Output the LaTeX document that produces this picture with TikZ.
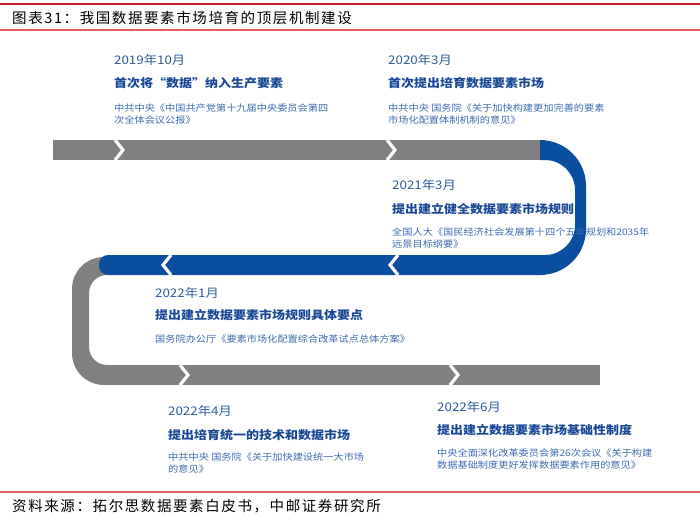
\documentclass[tikz,border=0pt]{standalone}
\usepackage{fontspec}
\newfontfamily\cjk[FakeStretch=1.12]{Noto Sans CJK SC}
\newfontfamily\cjktitle[LetterSpace=11]{Noto Sans CJK SC}
\usepackage{tikz}
\usetikzlibrary{positioning}

\definecolor{bandblue}{RGB}{10,78,160}
\definecolor{bandgray}{RGB}{128,128,128}
\definecolor{datecol}{RGB}{46,92,158}
\definecolor{headcol}{RGB}{24,72,150}
\definecolor{notecol}{RGB}{62,108,178}
\definecolor{rulered}{RGB}{200,30,36}
\definecolor{rulepink}{RGB}{226,96,100}

\begin{document}
\begin{tikzpicture}[
        x=1pt, y=-1pt,
        datetxt/.style={
            anchor=west, inner sep=0pt, text=datecol,
            font=\cjk\fontsize{11.9}{14}\selectfont
        },
        headtxt/.style={
            inner sep=0pt, text=headcol,
            font=\cjk\bfseries\fontsize{11.6}{14}\selectfont
        },
        notetxt/.style={
            inner sep=0pt, align=left, text=notecol,
            font=\cjk\fontsize{9.1}{12.5}\selectfont
        },
        captxt/.style={
            anchor=west, inner sep=0pt, text=black,
            font=\cjktitle\fontsize{14.5}{16}\selectfont
        },
        chev/.style={draw=white, line width=3.2pt, miter limit=4}
    ]

    \useasboundingbox (0,0) rectangle (700,524);
    \fill[white] (0,0) rectangle (700,524);

    % --- Header ---
    \draw[rulered, line width=2.4pt] (0,4) -- (700,4);
    \node[captxt] (title) at (12,18) {图表31：我国数据要素市场培育的顶层机制建设};
    \draw[rulepink, line width=1.1pt] (0,30) -- (700,30);

    % --- Timeline band ---
    \fill[bandgray] (53,140) rectangle (541,160);
    \begin{scope}
        \clip (540,100) rectangle (700,300);
        \fill[bandblue, even odd rule, rounded corners=46pt]
            (470,140) rectangle (586,275)
            [rounded corners=30pt] (470,160) rectangle (575,255);
    \end{scope}
    \begin{scope}
        \clip (0,240) rectangle (106,400);
        \fill[bandgray, even odd rule, rounded corners=32pt]
            (72,257) rectangle (220,385)
            [rounded corners=18pt] (89,275) rectangle (220,365);
    \end{scope}
    \fill[bandblue, rounded corners=9pt] (99,255) -- (99,275) -- (120,275)
        [sharp corners] -- (541,275) -- (541,255) -- (120,255) [rounded corners=9pt] -- cycle;
    \fill[bandgray] (100,365) rectangle (600,385);

    % chevrons
    \draw[chev] (115,140) -- (123,150) -- (115,160);
    \draw[chev] (387,140) -- (395,150) -- (387,160);
    \draw[chev] (171,255) -- (163,265) -- (171,275);
    \draw[chev] (398,255) -- (390,265) -- (398,275);
    \draw[chev] (180,365) -- (188,375) -- (180,385);
    \draw[chev] (450,365) -- (458,375) -- (450,385);

    % --- Milestones ---
    \node[datetxt] (d1910) at (114,60) {2019年10月};
    \node[headtxt, below=23pt of d1910.west, anchor=west] (h1910) {首次将“数据”纳入生产要素};
    \node[notetxt, below=20.5pt of h1910.west, anchor=north west] (n1910) {
        中共中央《中国共产党第十九届中央委员会第四\\
        次全体会议公报》
    };

    \node[datetxt] (d2003) at (388,60) {2020年3月};
    \node[headtxt, below=23pt of d2003.west, anchor=west] (h2003) {首次提出培育数据要素市场};
    \node[notetxt, below=20.5pt of h2003.west, anchor=north west] (n2003) {
        中共中央 国务院《关于加快构建更加完善的要素\\
        市场化配置体制机制的意见》
    };

    \node[datetxt] (d2103) at (392,185) {2021年3月};
    \node[headtxt, below=24pt of d2103.west, anchor=west] (h2103) {提出建立健全数据要素市场规则};
    \node[notetxt, below=18.5pt of h2103.west, anchor=north west] (n2103) {
        全国人大《国民经济社会发展第十四个五年规划和2035年\\
        远景目标纲要》
    };

    \node[datetxt] (d2201) at (155,293) {2022年1月};
    \node[headtxt, below=22pt of d2201.west, anchor=west] (h2201) {提出建立数据要素市场规则具体要点};
    \node[notetxt, below=19.5pt of h2201.west, anchor=north west] (n2201) {
        国务院办公厅《要素市场化配置综合改革试点总体方案》
    };

    \node[datetxt] (d2204) at (168,411) {2022年4月};
    \node[headtxt, below=24pt of d2204.west, anchor=west] (h2204) {提出培育统一的技术和数据市场};
    \node[notetxt, below=17.5pt of h2204.west, anchor=north west] (n2204) {
        中共中央 国务院《关于加快建设统一大市场\\
        的意见》
    };

    \node[datetxt] (d2206) at (437,407) {2022年6月};
    \node[headtxt, below=23pt of d2206.west, anchor=west] (h2206) {提出建立数据要素市场基础性制度};
    \node[notetxt, below=18.5pt of h2206.west, anchor=north west] (n2206) {
        中央全面深化改革委员会第26次会议《关于构建\\
        数据基础制度更好发挥数据要素作用的意见》
    };

    % --- Footer ---
    \draw[rulepink, line width=1.1pt] (0,492) -- (700,492);
    \node[captxt] (source) at (12,506) {资料来源：拓尔思数据要素白皮书，中邮证券研究所};

\end{tikzpicture}
\end{document}
